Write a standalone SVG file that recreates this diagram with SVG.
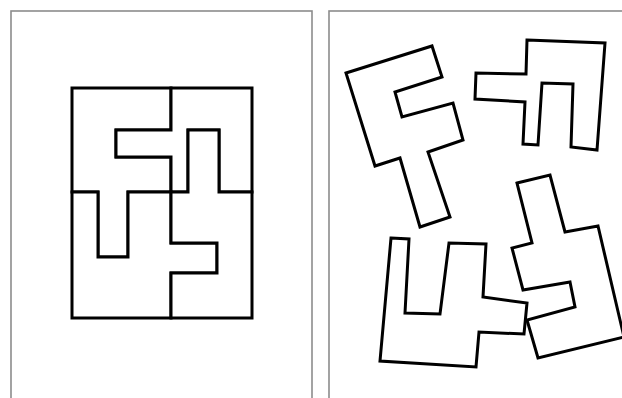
<svg xmlns="http://www.w3.org/2000/svg" width="622" height="398" viewBox="0 0 622 398">
<style>
.panel{fill:#fff;stroke:#8c8c8c;stroke-width:1.6}
.piece{fill:#fff;stroke:#000;stroke-width:3;stroke-linejoin:miter}
</style>
<rect x="0" y="0" width="622" height="398" fill="#fff"/>
<g id="panel-left"><rect class="panel" x="11" y="11" width="301" height="400"/></g>
<g id="panel-right"><rect class="panel" x="329" y="11" width="300" height="400"/></g>
<g id="assembled">
<g id="a-piece-tl"><polygon class="piece" points="72,88 171,88 171,130 116,130 116,157 171,157 171,192 128,192 128,257 98,257 98,192 72,192"/></g>
<g id="a-piece-tr"><polygon class="piece" points="171,88 252,88 252,192 219,192 219,130 188,130 188,192 171,192 171,157 116,157 116,130 171,130"/></g>
<g id="a-piece-bl"><polygon class="piece" points="72,192 98,192 98,257 128,257 128,192 171,192 171,243 217,243 217,273 171,273 171,318 72,318"/></g>
<g id="a-piece-br"><polygon class="piece" points="188,130 219,130 219,192 252,192 252,318 171,318 171,273 217,273 217,243 171,243 171,192 188,192"/></g>
</g>
<g id="scattered">
<g id="s-piece-f"><polygon class="piece" points="346,73 432,46 442,77 395,92 402,117 453,103 463,140 428,152 450,217 420,227 400,158 375,166"/></g>
<g id="s-piece-n"><polygon class="piece" points="527,40 605,43 597,150 571,147 573,84 542,83 538,145 523,144 525,102 475,99 476,73 526,74"/></g>
<g id="s-piece-u"><polygon class="piece" points="391,238 409,239 405,313 440,314 449,243 486,244 483,297 527,303 524,334 479,332 476,367 380,361"/></g>
<g id="s-piece-s"><polygon class="piece" points="517,183 550,175 565,232 598,226 624,337 538,358 527,320 575,307 570,282 523,290 512,248 532,243"/></g>
</g>
</svg>
